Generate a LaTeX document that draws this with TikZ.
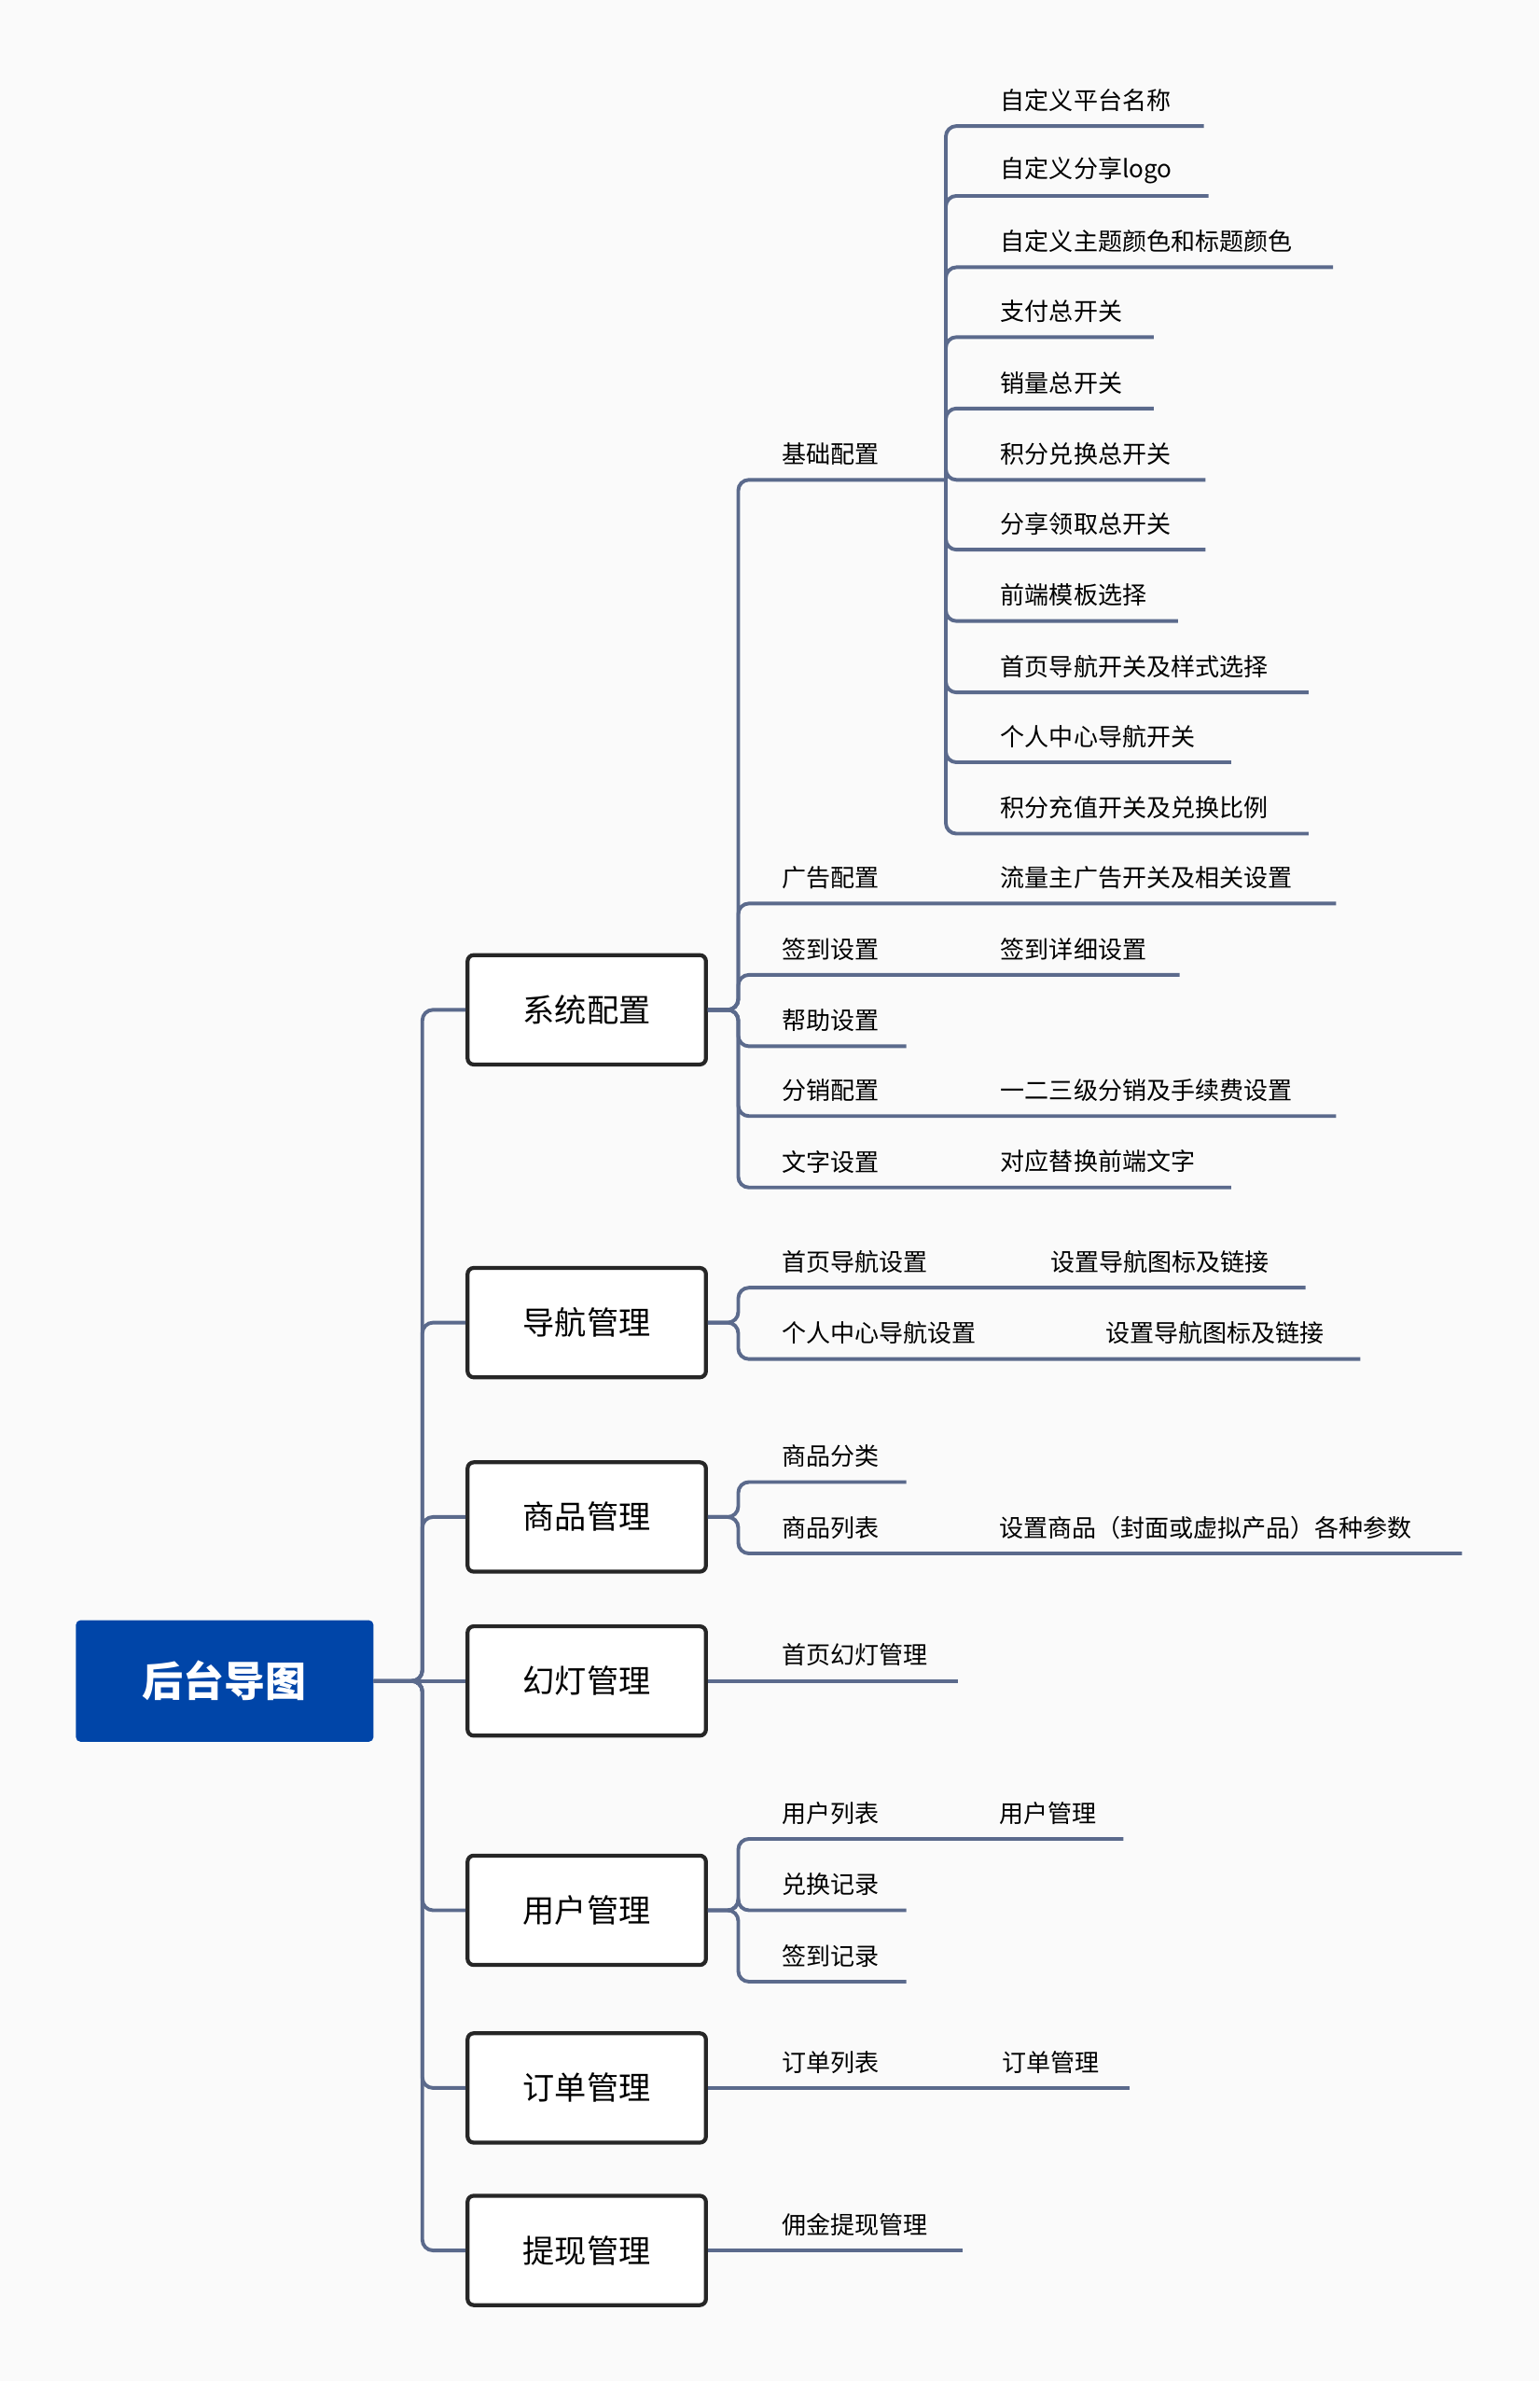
\documentclass[tikz,border=0pt]{standalone}
\usepackage{fontspec}
\setmainfont{Noto Sans CJK SC}
\usetikzlibrary{calc}
\definecolor{linec}{HTML}{5B6A8C}
\definecolor{rootc}{HTML}{0045A8}
\tikzset{
  branch/.style={draw=linec, line width=2.4pt, rounded corners=7pt},
  topic/.style={draw=black!85, line width=2.6pt, fill=white, rounded corners=4pt,
    minimum width=157pt, minimum height=72pt, font=\fontsize{21}{21}\selectfont},
  leaf/.style={anchor=west, inner sep=0pt, font=\fontsize{16}{16}\selectfont}
}
\begin{document}
\begin{tikzpicture}[x=1pt, y=-1pt]
  \fill[black!2] (0,0) rectangle (1014,1568);
  \useasboundingbox (0,0) rectangle (1014,1568);

  \node[fill=rootc, rounded corners=3pt, minimum width=196pt, minimum height=80pt,
    text=white, font=\fontsize{27}{27}\selectfont\bfseries] (root) at (148,1107) {后台导图};

  % first level
  \node[topic] (sys) at (386.5,665) {系统配置};
  \node[topic] (nav) at (386.5,871) {导航管理};
  \node[topic] (goods) at (386.5,999) {商品管理};
  \node[topic] (slide) at (386.5,1107) {幻灯管理};
  \node[topic] (user) at (386.5,1258) {用户管理};
  \node[topic] (order) at (386.5,1375) {订单管理};
  \node[topic] (cash) at (386.5,1482) {提现管理};

  \draw[branch] (root.east) -- (slide.west);
  \foreach \t in {sys,nav,goods,user,order,cash}
    \draw[branch] (root.east) -- ++(32,0) |- (\t.west);

  % 系统配置
  \node[leaf] (base) at (515,299) {基础配置};
  \coordinate (base-e) at (623,316);
  \draw[branch] (sys.east) -- ++(20,0) |- (base-e);
  \foreach \y/\w/\txt in {66/793/自定义平台名称, 112/796/自定义分享logo,
      159/878/自定义主题颜色和标题颜色, 205/760/支付总开关, 252/760/销量总开关,
      299/794/积分兑换总开关, 345/794/分享领取总开关, 392/776/前端模板选择,
      439/862/首页导航开关及样式选择, 485/811/个人中心导航开关, 532/862/积分充值开关及兑换比例} {
    \node[leaf] (g-\y) at (659,\y) {\txt};
    \coordinate (ge-\y) at (\w,\y+17);
    \draw[branch] (base-e) -- ++(0,0) |- (ge-\y);
  }
  \foreach \y/\w/\txt/\sub in {578/880/广告配置/流量主广告开关及相关设置, 625/777/签到设置/签到详细设置,
      718/880/分销配置/一二三级分销及手续费设置, 765/811/文字设置/对应替换前端文字} {
    \node[leaf] (c-\y) at (515,\y) {\txt};
    \node[leaf] (s-\y) at (659,\y) {\sub};
    \coordinate (ce-\y) at (\w,\y+17);
    \draw[branch] (sys.east) -- ++(20,0) |- (ce-\y);
  }
  \node[leaf] (help) at (515,672) {帮助设置};
  \coordinate (help-e) at (597,689);
  \draw[branch] (sys.east) -- ++(20,0) |- (help-e);

  % 导航管理
  \node[leaf] (homenav) at (515,831) {首页导航设置};
  \node[leaf] (homenav-s) at (692,831) {设置导航图标及链接};
  \coordinate (homenav-e) at (860,848);
  \node[leaf] (usernav) at (515,878) {个人中心导航设置};
  \node[leaf] (usernav-s) at (728,878) {设置导航图标及链接};
  \coordinate (usernav-e) at (896,895);
  \draw[branch] (nav.east) -- ++(20,0) |- (homenav-e);
  \draw[branch] (nav.east) -- ++(20,0) |- (usernav-e);

  % 商品管理
  \node[leaf] (cat) at (515,959) {商品分类};
  \coordinate (cat-e) at (597,976);
  \node[leaf] (list) at (515,1006) {商品列表};
  \node[leaf] (list-s) at (658,1006) {设置商品（封面或虚拟产品）各种参数};
  \coordinate (list-e) at (963,1023);
  \draw[branch] (goods.east) -- ++(20,0) |- (cat-e);
  \draw[branch] (goods.east) -- ++(20,0) |- (list-e);

  % 幻灯管理
  \node[leaf] (homeslide) at (515,1090) {首页幻灯管理};
  \coordinate (homeslide-e) at (631,1107);
  \draw[branch] (slide.east) -- (homeslide-e);

  % 用户管理
  \node[leaf] (ulist) at (515,1194) {用户列表};
  \node[leaf] (ulist-s) at (658,1194) {用户管理};
  \coordinate (ulist-e) at (740,1211);
  \node[leaf] (swap) at (515,1241) {兑换记录};
  \coordinate (swap-e) at (597,1258);
  \node[leaf] (sign) at (515,1288) {签到记录};
  \coordinate (sign-e) at (597,1305);
  \foreach \c in {ulist-e,swap-e,sign-e}
    \draw[branch] (user.east) -- ++(20,0) |- (\c);

  % 订单管理
  \node[leaf] (olist) at (515,1358) {订单列表};
  \node[leaf] (olist-s) at (660,1358) {订单管理};
  \coordinate (olist-e) at (744,1375);
  \draw[branch] (order.east) -- (olist-e);

  % 提现管理
  \node[leaf] (comm) at (515,1465) {佣金提现管理};
  \coordinate (comm-e) at (634,1482);
  \draw[branch] (cash.east) -- (comm-e);
\end{tikzpicture}
\end{document}
